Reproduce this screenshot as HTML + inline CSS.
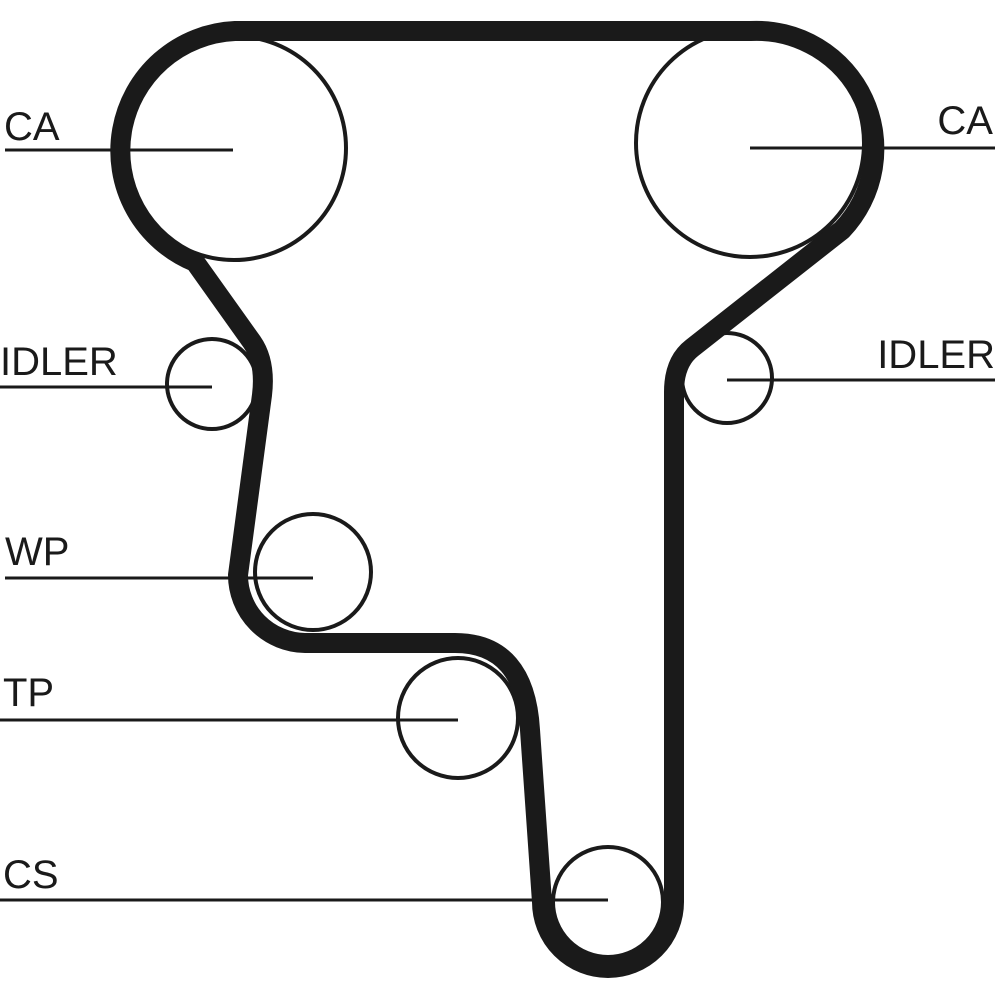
<!DOCTYPE html>
<html><head><meta charset="utf-8"><style>body{margin:0;background:#fff}svg{display:block}</style></head><body>
<svg width="1000" height="1000" viewBox="0 0 1000 1000" xmlns="http://www.w3.org/2000/svg">
<g fill="none" stroke="#1a1a1a" stroke-width="4">
<circle cx="234" cy="148" r="112"/>
<circle cx="750" cy="143" r="114"/>
<circle cx="212" cy="384" r="45"/>
<circle cx="727" cy="378" r="45"/>
<circle cx="313" cy="572" r="58"/>
<circle cx="458" cy="718" r="60"/>
<circle cx="608" cy="902" r="55"/>
</g>
<path d="M 235,31 L 750,31 A 118,118 0 0 1 842,230 L 692,348 Q 674,362 674,392 L 674,902 A 66,66 0 0 1 542,902 L 530,730 Q 525,643 455,643 L 305,643 A 68,68 0 0 1 238,575 L 262,395 Q 266,362 252,342 L 195,262 A 120,120 0 0 1 235,31 Z" fill="none" stroke="#1a1a1a" stroke-width="20" stroke-linejoin="round"/>
<g stroke="#1a1a1a" stroke-width="3">
<line x1="5" y1="150" x2="233" y2="150"/>
<line x1="750" y1="148" x2="995" y2="148"/>
<line x1="0" y1="387" x2="212" y2="387"/>
<line x1="727" y1="380" x2="995" y2="380"/>
<line x1="5" y1="578" x2="313" y2="578"/>
<line x1="0" y1="720" x2="458" y2="720"/>
<line x1="0" y1="900" x2="608" y2="900"/>
</g>
<g font-family="Liberation Sans, sans-serif" font-size="40" fill="#1a1a1a">
<text x="4" y="140">CA</text>
<text x="993" y="134" text-anchor="end">CA</text>
<text x="0" y="375">IDLER</text>
<text x="995" y="368" text-anchor="end">IDLER</text>
<text x="5" y="565">WP</text>
<text x="3" y="706">TP</text>
<text x="3" y="888">CS</text>
</g>
</svg>
</body></html>
